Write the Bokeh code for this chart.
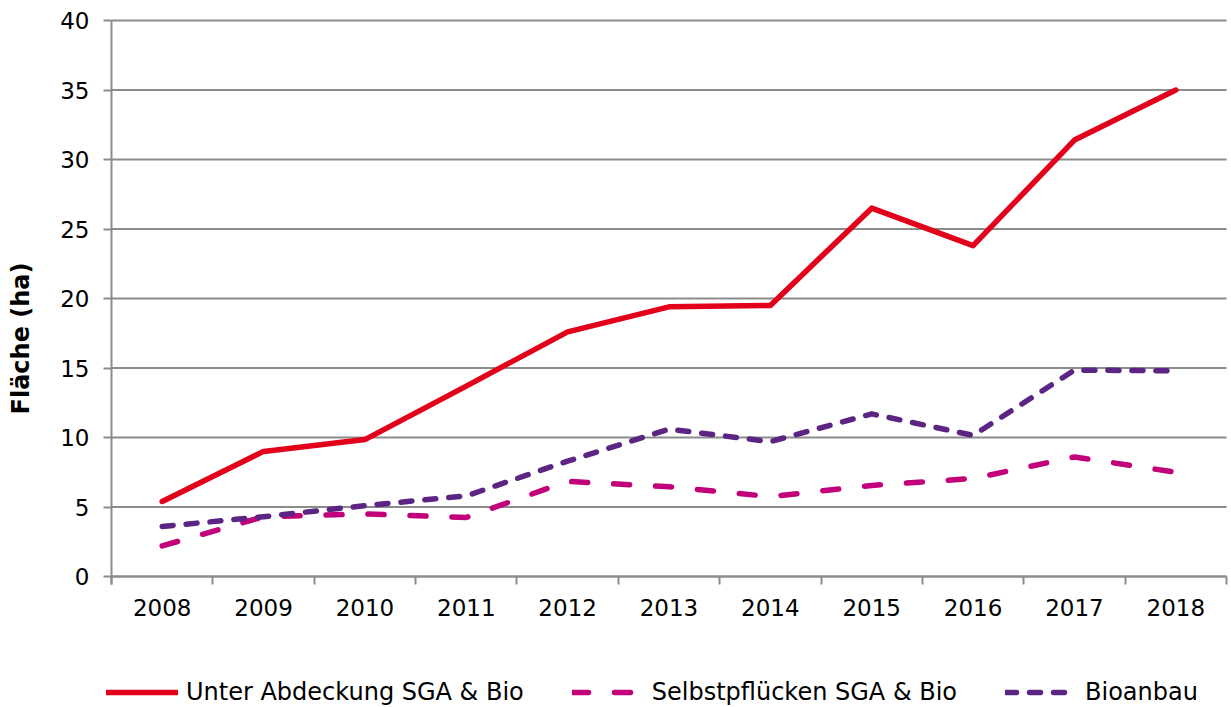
import math
from bokeh.plotting import figure
from bokeh.models import (Range1d, FixedTicker, Legend, LegendItem, ColumnDataSource, Label)
from bokeh.embed import file_html
from bokeh.resources import INLINE

years = ["2008", "2009", "2010", "2011", "2012", "2013", "2014", "2015", "2016", "2017", "2018"]
unter_abdeckung = [5.4, 9.0, 9.85, 13.7, 17.6, 19.4, 19.5, 26.5, 23.8, 31.4, 35.0]
selbstpfluecken = [2.2, 4.3, 4.5, 4.25, 6.85, 6.45, 5.75, 6.55, 7.05, 8.6, 7.5]
bioanbau = [3.6, 4.3, 5.1, 5.8, 8.3, 10.6, 9.7, 11.7, 10.15, 14.85, 14.8]
series_names = ["Unter Abdeckung SGA & Bio", "Selbstpflücken SGA & Bio", "Bioanbau"]
y_ticks = [0, 5, 10, 15, 20, 25, 30, 35, 40]
y_label = "Fläche (ha)"

FONT = "DejaVu Sans"
GRID = "#8c8c8c"
W, H = 1231, 707
# plot area (pixels) inside the canvas
L, R, T, B = 111, 1226, 20, 576

n = len(years)
y_max = y_ticks[-1]
xpos = [i + 0.5 for i in range(n)]

xs = (R - L) / n            # px per category
ys = (B - T) / y_max        # px per unit
x_range = Range1d(-L / xs, n + (W - R) / xs)
y_range = Range1d(-(H - B) / ys, y_max + T / ys)

p = figure(width=W, height=H, output_backend="svg", toolbar_location=None,
           x_range=x_range, y_range=y_range, min_border=0)
p.outline_line_color = None
p.background_fill_color = "white"
p.border_fill_color = "white"
p.xgrid.grid_line_color = None
p.ygrid.grid_line_color = None

# horizontal gridlines across the plot area only
p.segment(x0=[0] * len(y_ticks), x1=[n] * len(y_ticks), y0=y_ticks, y1=y_ticks,
          line_color=GRID, line_width=2)

src = ColumnDataSource(dict(x=xpos, a=unter_abdeckung, b=selbstpfluecken, c=bioanbau))

r1 = p.line("x", "a", source=src, line_color="#e2001a", line_width=5.5,
            line_join="round", line_cap="round")
r2 = p.line("x", "b", source=src, line_color="#c1007a", line_width=5.5,
            line_join="round", line_cap="round", line_dash="16 26")
r3 = p.line("x", "c", source=src, line_color="#5c2483", line_width=5.5,
            line_join="round", line_cap="round", line_dash="11 13")

# x axis at y = 0
xa = p.xaxis[0]
xa.fixed_location = 0
xa.bounds = (0, n)
xa.ticker = FixedTicker(ticks=xpos, minor_ticks=list(range(n + 1)))
xa.major_label_overrides = {x: y for x, y in zip(xpos, years)}
xa.major_tick_out = 0
xa.major_tick_in = 0
xa.minor_tick_out = 8
xa.minor_tick_in = 0
xa.minor_tick_line_color = GRID
xa.minor_tick_line_width = 2
xa.axis_line_color = GRID
xa.axis_line_width = 2
xa.major_label_text_font = FONT
xa.major_label_text_font_size = "23px"
xa.major_label_text_color = "black"
xa.major_label_standoff = 14

# y axis at x = 0
ya = p.yaxis[0]
ya.fixed_location = 0
ya.bounds = (-8 / ys, y_max)
ya.ticker = FixedTicker(ticks=y_ticks)
ya.major_tick_out = 8
ya.major_tick_in = 0
ya.minor_tick_out = 0
ya.minor_tick_in = 0
ya.major_tick_line_color = GRID
ya.major_tick_line_width = 2
ya.axis_line_color = GRID
ya.axis_line_width = 2
ya.major_label_text_font = FONT
ya.major_label_text_font_size = "23px"
ya.major_label_text_color = "black"
ya.major_label_standoff = 14

ylab = Label(x=20, y=H - 338, x_units="screen", y_units="screen", text=y_label,
             angle=math.pi / 2, text_align="center", text_baseline="middle",
             text_font=FONT, text_font_size="24px", text_font_style="bold",
             text_color="black")
p.add_layout(ylab)

legend = Legend(items=[LegendItem(label=series_names[0], renderers=[r1]),
                       LegendItem(label=series_names[1], renderers=[r2]),
                       LegendItem(label=series_names[2], renderers=[r3])],
                orientation="horizontal", location=(106, 1),
                glyph_width=72, glyph_height=28, label_height=28,
                label_standoff=8, spacing=48,
                padding=0, margin=0, border_line_color=None,
                background_fill_alpha=0,
                label_text_font=FONT, label_text_font_size="24px",
                label_text_color="black")
p.add_layout(legend, "center")

open("out.html", "w").write(file_html(p, INLINE))
